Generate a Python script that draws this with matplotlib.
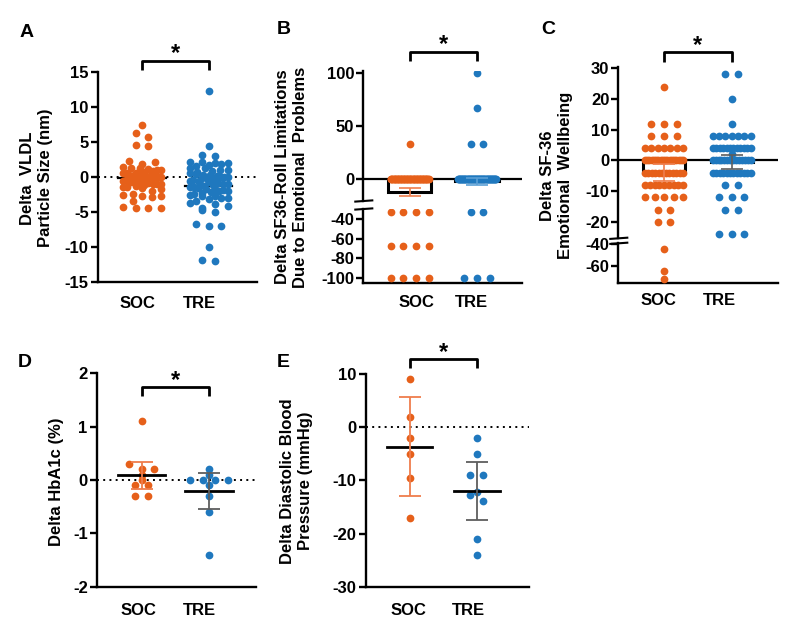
import matplotlib
matplotlib.use('Agg')
import matplotlib.pyplot as plt
from matplotlib.lines import Line2D
import numpy as np

plt.rcParams['font.family'] = ['Liberation Sans', 'DejaVu Sans']
plt.rcParams['font.weight'] = 'bold'
plt.rcParams['font.size'] = 12
plt.rcParams['axes.unicode_minus'] = False

# ---------------- data ----------------
groups = ['SOC', 'TRE']

# A: Delta VLDL particle size (nm)
A_soc = [7.4, 6.2, 5.7, 4.5, 4.4, 2.2, 2.1, 1.8, 1.4, 1.3, 1.2, 1.1, 1.0, 0.9, 0.8, 0.7,
         0.6, 0.6, 0.5, 0.4, 0.3, 0.2, 0.2, 0.1, 0.0, 0.0, -0.1, -0.2, -0.2, -0.3, -0.4,
         -0.5, -0.5, -0.6, -0.7, -0.8, -0.9, -1.0, -1.0, -1.1, -1.2, -1.3, -1.4, -1.5,
         -1.6, -1.8, -2.0, -2.5, -2.6, -2.7, -2.7, -2.9, -3.4, -4.3, -4.4, -4.5, -4.5]
A_tre = [12.2, 4.4, 3.1, 2.9, 2.1, 2.1, 1.9, 1.9, 1.8, 1.7, 1.5, 1.3, 1.2, 1.0, 0.9, 0.8,
         0.7, 0.5, 0.4, 0.3, 0.2, 0.1, 0.0, 0.0, -0.1, -0.2, -0.3, -0.4, -0.5, -0.6, -0.7,
         -0.8, -0.9, -1.0, -1.1, -1.2, -1.3, -1.4, -1.5, -1.6, -1.7, -1.8, -1.9, -2.0,
         -2.1, -2.2, -2.3, -2.5, -2.6, -2.7, -2.8, -3.0, -3.1, -3.2, -3.4, -3.8, -3.9,
         -4.2, -4.4, -4.8, -5.0, -6.8, -7.0, -7.0, -10.0, -11.9, -12.1]
A_mean = [-0.23, -1.33]

# B: Delta SF36 role limitations due to emotional problems (value, count)
B_soc_vals = [33, 0, -33, -67, -100]
B_soc_cnts = [1, 51, 4, 4, 4]
B_tre_vals = [100, 67, 33, 0, -33, -100]
B_tre_cnts = [1, 1, 2, 57, 2, 3]
B_mean = [-12.0, -2.0]
B_lo = [-15.7, -5.3]
B_hi = [-8.3, 1.3]

# C: Delta SF-36 emotional wellbeing (value, count)
C_soc_vals = [24, 12, 8, 4, 0, -4, -8, -12, -16, -20, -44, -64, -72]
C_soc_cnts = [1, 3, 3, 7, 18, 12, 9, 5, 2, 2, 1, 1, 1]
C_tre_vals = [28, 20, 12, 8, 4, 2, 0, -4, -8, -12, -16, -24]
C_tre_cnts = [2, 1, 1, 7, 12, 1, 14, 12, 2, 3, 2, 3]
C_mean = [-4.0, -0.5]
C_lo = [-6.8, -2.8]
C_hi = [-1.2, 1.9]

# D: Delta HbA1c (%)
D_soc = [1.1, 0.3, 0.2, 0.2, 0.1, 0.0, -0.1, -0.1, -0.3, -0.3]
D_tre = [0.2, 0.1, 0.0, 0.0, 0.0, 0.0, -0.1, -0.3, -0.6, -1.4]
D_mean = [0.1, -0.21]
D_lo = [-0.17, -0.55]
D_hi = [0.34, 0.125]

# E: Delta diastolic blood pressure (mmHg)
E_soc = [9, 2, -2, -5, -9.5, -17]
E_tre = [-2, -5, -9, -9, -12.2, -12.7, -13.8, -21, -24]
E_mean = [-3.75, -12.0]
E_lo = [-13.0, -17.5]
E_hi = [5.75, -6.6]

# ---------------- style ----------------
ORANGE = '#E6601A'
BLUE = '#1F78BE'
ORANGE_ERR = '#EF7D4C'
GRAY_ERR = '#5E5E5E'
BLUE_ERR = '#5A9FD6'
DOT_S = 31
SPINE_LW = 1.7

W, H = 805, 634
fig = plt.figure(figsize=(W / 100, H / 100), dpi=100)

D_PX = 7.0
SPREAD_PX = 12.7
WIDTH_PX = 38.0


def add_ax(left, right, top, bottom):
    return fig.add_axes([left / W, 1 - bottom / H, (right - left) / W, (bottom - top) / H])


def xlims(left, right, c0, c1):
    span = c1 - c0
    return (-(c0 - left) / span, 1 + (right - c1) / span), span


def swarm_x(values, center, y_ppu, x_ppu, exact=False):
    vals = np.asarray(values, float)
    keys = vals.copy() if exact else np.round(vals * y_ppu / D_PX)
    xs = np.zeros(len(vals))
    for k in np.unique(keys):
        idx = np.where(keys == k)[0]
        idx = idx[np.argsort(vals[idx])]
        order = []
        lo, hi = 0, len(idx) - 1
        while lo <= hi:
            order.append(idx[hi]); hi -= 1
            if lo <= hi:
                order.append(idx[lo]); lo += 1
        n = len(order)
        if n > 1:
            step = min(SPREAD_PX, WIDTH_PX / (n - 1))
            offs = (np.arange(n) - (n - 1) / 2) * step
        else:
            offs = np.zeros(1)
        xs[np.array(order)] = center + offs / x_ppu
    return xs


def style(ax, bottom=True, xpad=10):
    for s in ['top', 'right']:
        ax.spines[s].set_visible(False)
    ax.spines['left'].set_linewidth(SPINE_LW)
    ax.spines['bottom'].set_linewidth(SPINE_LW)
    if not bottom:
        ax.spines['bottom'].set_visible(False)
    ax.tick_params(axis='y', length=5, width=SPINE_LW, pad=1.5, labelsize=12)
    ax.tick_params(axis='x', length=0, pad=xpad, labelsize=12)


def set_xlabels(ax, label_px, c0, span, show=True):
    pos = [(label_px[0] - c0) / span, (label_px[1] - c0) / span]
    if show:
        ax.set_xticks(pos)
        ax.set_xticklabels(groups)
    else:
        ax.set_xticks([])


def sig(ax, bar, drop):
    ax.plot([0, 0, 1, 1], [drop, bar, bar, drop], color='black', lw=2.0,
            clip_on=False, solid_capstyle='butt', zorder=6)
    ax.annotate('*', xy=(0.5, bar), xytext=(0, 0.5), textcoords='offset points',
                ha='center', va='baseline', fontsize=17, fontweight='bold',
                annotation_clip=False)


def ylabel(xc, yc, text):
    fig.text(xc / W, 1 - yc / H, text, rotation=90, ha='center', va='center',
             multialignment='center', fontsize=12, fontweight='bold', linespacing=1.25)


def letter(x, y, t):
    fig.text(x / W, 1 - y / H, t, ha='left', va='top', fontsize=14, fontweight='bold')


def break_marks(x, y1, y2):
    for y in (y1, y2):
        fig.add_artist(Line2D([(x - 8) / W, (x + 9) / W], [1 - (y + 0.6) / H, 1 - (y - 0.6) / H],
                              transform=fig.transFigure, color='black', lw=1.5))


def zero_dotted(ax):
    ax.axhline(0, color='black', lw=1.4, linestyle=(0, (1, 2.2)), zorder=1)


# ---------------- Panel A ----------------
L, R, T, Bt = 97.7, 256.7, 71.7, 281.7
c0, c1 = 142.0, 208.5
axA = add_ax(L, R, T, Bt)
xl, span = xlims(L, R, c0, c1)
axA.set_xlim(*xl)
axA.set_ylim(-15, 15)
y_ppu = (Bt - T) / 30
zero_dotted(axA)
for i, (vals, col) in enumerate([(A_soc, ORANGE), (A_tre, BLUE)]):
    axA.plot([i - 0.36, i + 0.36], [A_mean[i]] * 2, color='black', lw=1.6, zorder=2)
    axA.scatter(swarm_x(vals, i, y_ppu, span), vals, s=DOT_S, color=col, linewidths=0, zorder=3)
axA.set_yticks([15, 10, 5, 0, -5, -10, -15])
style(axA, xpad=10.3)
set_xlabels(axA, (137, 199), c0, span)
sig(axA, 15 + 11 / y_ppu, 15 + 1.7 / y_ppu)
ylabel(36.5, 178, 'Delta  VLDL\nParticle Size (nm)')
letter(20, 24, 'A')

# ---------------- Panel B ----------------
L, R = 363.3, 521.7
c0, c1 = 409.7, 477.0
xl, span = xlims(L, R, c0, c1)
axBu = add_ax(L, R, 71, 201)
axBl = add_ax(L, R, 209, 283.3)
axBu.set_ylim(-20.6, 101.6)
axBl.set_ylim(-105.4, -29.7)
soc_B = np.repeat(B_soc_vals, B_soc_cnts)
tre_B = np.repeat(B_tre_vals, B_tre_cnts)
for ax in (axBu, axBl):
    ax.set_xlim(*xl)
    for i, (vals, col) in enumerate([(soc_B, ORANGE), (tre_B, BLUE)]):
        ax.scatter(swarm_x(vals, i, 1.0, span, exact=True), vals, s=DOT_S, color=col,
                   linewidths=0, zorder=3)
axBu.axhline(0, color='black', lw=1.6, zorder=2)
axBu.bar([0, 1], B_mean, width=0.64, facecolor='none', edgecolor='black', lw=2.2, zorder=2)
for i, ec in enumerate([ORANGE_ERR, BLUE_ERR]):
    axBu.errorbar([i], [B_mean[i]], yerr=[[B_mean[i] - B_lo[i]], [B_hi[i] - B_mean[i]]],
                  fmt='none', ecolor=ec, elinewidth=1.2, capsize=8, capthick=1.2, zorder=4)
axBu.set_yticks([0, 50, 100])
axBl.set_yticks([-40, -60, -80, -100])
style(axBu, bottom=False)
style(axBl, xpad=8.4)
set_xlabels(axBu, (416.7, 471.7), c0, span, show=False)
set_xlabels(axBl, (416.7, 471.7), c0, span)
bu_ppu = 130 / 122.2
sig(axBu, 101.6 + 19.3 / bu_ppu, 101.6 + 10 / bu_ppu)
break_marks(L, 201, 209)
ylabel(291.7, 177, 'Delta SF36-Roll Limitations\nDue to Emotional  Problems')
letter(277, 21, 'B')

# ---------------- Panel C ----------------
L, R = 618.3, 778.0
c0, c1 = 664.0, 731.7
xl, span = xlims(L, R, c0, c1)
axCu = add_ax(L, R, 66.7, 238.3)
axCl = add_ax(L, R, 243.3, 283.3)
axCu.set_ylim(-25.3, 30.5)
axCl.set_ylim(-75.5, -39.1)
soc_C = np.repeat(C_soc_vals, C_soc_cnts)
tre_C = np.repeat(C_tre_vals, C_tre_cnts)
for ax in (axCu, axCl):
    ax.set_xlim(*xl)
    for i, (vals, col) in enumerate([(soc_C, ORANGE), (tre_C, BLUE)]):
        ax.scatter(swarm_x(vals, i, 1.0, span, exact=True), vals, s=DOT_S, color=col,
                   linewidths=0, zorder=3)
axCu.axhline(0, color='black', lw=1.6, zorder=2)
axCu.bar([0, 1], C_mean, width=0.625, facecolor='none', edgecolor='black', lw=2.2, zorder=2)
for i, ec in enumerate([ORANGE_ERR, GRAY_ERR]):
    axCu.errorbar([i], [C_mean[i]], yerr=[[C_mean[i] - C_lo[i]], [C_hi[i] - C_mean[i]]],
                  fmt='none', ecolor=ec, elinewidth=1.2, capsize=8, capthick=1.2, zorder=4)
axCu.set_yticks([30, 20, 10, 0, -10, -20])
axCl.set_yticks([-40, -60])
style(axCu, bottom=False)
style(axCl, xpad=7.2)
set_xlabels(axCu, (658, 719), c0, span, show=False)
set_xlabels(axCl, (658, 719), c0, span)
cu_ppu = 171.6 / 55.8
sig(axCu, 30.5 + 14.4 / cu_ppu, 30.5 + 5 / cu_ppu)
break_marks(L, 238.3, 243.3)
ylabel(556.7, 175.5, 'Delta SF-36\nEmotional  Wellbeing')
letter(541, 21, 'C')

# ---------------- Panel D ----------------
L, R, T, Bt = 96.7, 256.0, 373.3, 586.7
c0, c1 = 141.5, 209.0
axD = add_ax(L, R, T, Bt)
xl, span = xlims(L, R, c0, c1)
axD.set_xlim(*xl)
axD.set_ylim(-2, 2)
y_ppu = (Bt - T) / 4
zero_dotted(axD)
for i, (vals, col, ec) in enumerate([(D_soc, ORANGE, ORANGE_ERR), (D_tre, BLUE, GRAY_ERR)]):
    axD.scatter(swarm_x(vals, i, y_ppu, span), vals, s=DOT_S, color=col, linewidths=0, zorder=3)
    axD.plot([i - 0.35, i + 0.35], [D_mean[i]] * 2, color='black', lw=2.0, zorder=4)
    axD.errorbar([i], [D_mean[i]], yerr=[[D_mean[i] - D_lo[i]], [D_hi[i] - D_mean[i]]],
                 fmt='none', ecolor=ec, elinewidth=1.3, capsize=8, capthick=1.3, zorder=5)
axD.set_yticks([2, 1, 0, -1, -2])
style(axD, xpad=11.5)
set_xlabels(axD, (138, 199.5), c0, span)
sig(axD, 2 - 14 / y_ppu, 2 - 22.7 / y_ppu)
ylabel(56.7, 481.7, 'Delta HbA1c (%)')
letter(18, 354, 'D')

# ---------------- Panel E ----------------
L, R, T, Bt = 365.7, 529.3, 374.0, 586.7
c0, c1 = 409.5, 476.7
axE = add_ax(L, R, T, Bt)
xl, span = xlims(L, R, c0, c1)
axE.set_xlim(*xl)
axE.set_ylim(-30, 10)
y_ppu = (Bt - T) / 40
zero_dotted(axE)
for i, (vals, col, ec) in enumerate([(E_soc, ORANGE, ORANGE_ERR), (E_tre, BLUE, GRAY_ERR)]):
    axE.scatter(swarm_x(vals, i, y_ppu, span), vals, s=DOT_S, color=col, linewidths=0, zorder=3)
    axE.plot([i - 0.34, i + 0.34], [E_mean[i]] * 2, color='black', lw=2.0, zorder=4)
    axE.errorbar([i], [E_mean[i]], yerr=[[E_mean[i] - E_lo[i]], [E_hi[i] - E_mean[i]]],
                 fmt='none', ecolor=ec, elinewidth=1.3, capsize=8, capthick=1.3, zorder=5)
axE.set_yticks([10, 0, -10, -20, -30])
style(axE, xpad=12)
set_xlabels(axE, (408.3, 468), c0, span)
sig(axE, 10 + 14.7 / y_ppu, 10 + 5.7 / y_ppu)
ylabel(296.7, 480.7, 'Delta Diastolic Blood\nPressure (mmHg)')
letter(277, 354, 'E')

fig.savefig('out.png', dpi=100, facecolor='white')
